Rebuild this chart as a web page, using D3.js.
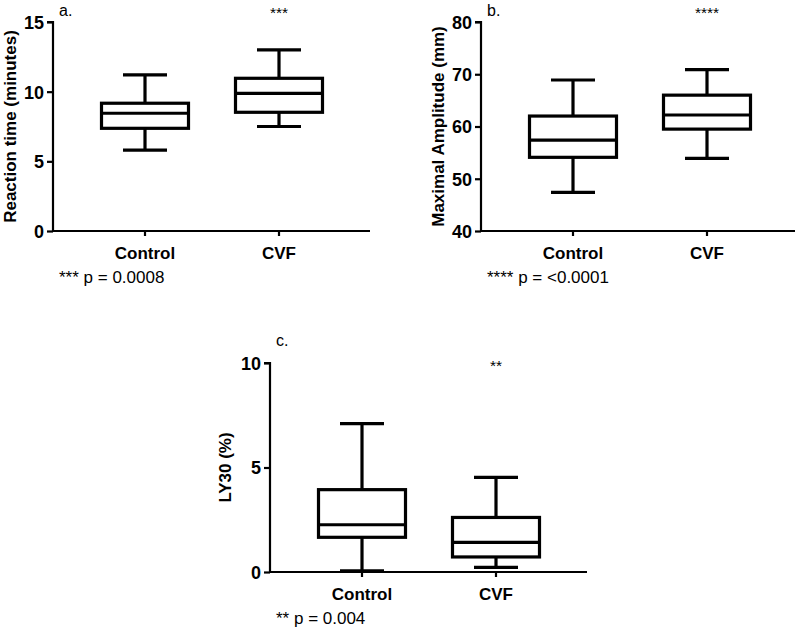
<!DOCTYPE html>
<html><head><meta charset="utf-8">
<script src="https://cdn.jsdelivr.net/npm/d3@7"></script>
<style>body{margin:0;background:#fff}svg{display:block}text{font-family:"Liberation Sans",Arial,sans-serif;fill:#000}</style>
</head><body><svg id="c" width="800" height="630"></svg>
<script>
const categories = ["Control", "CVF"];
// [min, Q1, median, Q3, max]
const reactionTime = [[5.8, 7.37, 8.45, 9.17, 11.2], [7.5, 8.52, 9.88, 10.96, 13.0]];
const maxAmplitude = [[47.4, 54.1, 57.4, 62.0, 68.9], [53.9, 59.5, 62.2, 66.0, 70.9]];
const ly30 = [[0.05, 1.66, 2.26, 3.94, 7.1], [0.22, 0.72, 1.42, 2.61, 4.53]];
const ticksA = [0, 5, 10, 15];
const ticksB = [40, 50, 60, 70, 80];
const ticksC = [0, 5, 10];

const svg = d3.select("#c");

function panel(o) {
  const g = svg.append("g").attr("transform", `translate(${o.x},${o.y})`);
  const W = o.w, H = 209;
  const y = d3.scaleLinear().domain(o.domain).range([H, 0]);
  const x = d3.scaleBand().domain(categories).range([25, 293]);
  // y axis
  const ya = g.append("g").call(d3.axisLeft(y).tickValues(o.ticks).tickSize(6).tickPadding(3));
  ya.select(".domain").attr("stroke-width", 2.2).attr("d", `M-6,0H0V${H}`);
  ya.selectAll(".tick line").attr("stroke-width", 2.2);
  ya.selectAll(".tick text").style("font-size", "18px").style("font-weight", "bold").attr("dy", "0.36em");
  // x axis
  const xa = g.append("g").attr("transform", `translate(0,${H})`).call(d3.axisBottom(x).tickSize(5).tickPadding(8));
  xa.select(".domain").attr("stroke-width", 2.2).attr("d", `M0,0H${W}`);
  xa.selectAll(".tick line").attr("stroke-width", 2.2);
  xa.selectAll(".tick text").style("font-size", "17px").style("font-weight", "bold").attr("dy", "0.9em");
  // boxes
  const bw = 87, cw = 44;
  o.data.forEach((d, i) => {
    const cx = x(categories[i]) + x.bandwidth() / 2;
    const b = g.append("g").attr("stroke", "#000").attr("stroke-width", 3.2).attr("fill", "#fff");
    b.append("line").attr("x1", cx).attr("x2", cx).attr("y1", y(d[0])).attr("y2", y(d[1]));
    b.append("line").attr("x1", cx).attr("x2", cx).attr("y1", y(d[3])).attr("y2", y(d[4]));
    b.append("line").attr("x1", cx - cw / 2).attr("x2", cx + cw / 2).attr("y1", y(d[0])).attr("y2", y(d[0]));
    b.append("line").attr("x1", cx - cw / 2).attr("x2", cx + cw / 2).attr("y1", y(d[4])).attr("y2", y(d[4]));
    b.append("rect").attr("x", cx - bw / 2).attr("width", bw).attr("y", y(d[3])).attr("height", y(d[1]) - y(d[3]));
    b.append("line").attr("x1", cx - bw / 2).attr("x2", cx + bw / 2).attr("y1", y(d[2])).attr("y2", y(d[2]));
  });
  // y title
  g.append("text").attr("transform", `translate(${o.tx},${H / 2 + o.tdy}) rotate(-90)`)
    .attr("text-anchor", "middle").style("font-size", "17px").style("font-weight", "bold").text(o.title);
  // panel letter
  g.append("text").attr("x", 6).attr("y", o.ly).style("font-size", "16px").text(o.letter);
  // stars
  const cx2 = x("CVF") + x.bandwidth() / 2;
  g.append("text").attr("x", cx2).attr("y", o.sy).attr("text-anchor", "middle").style("font-size", "15.5px").text(o.stars);
  // p-value note
  g.append("text").attr("x", 6).attr("y", H + 52).style("font-size", "17px").text(o.note);
}

panel({x: 53, y: 22, w: 317, domain: [0, 15], ticks: ticksA, data: reactionTime,
  title: "Reaction time (minutes)", tx: -37, tdy: 0, letter: "a.", ly: -6, stars: "***", sy: -4, note: "*** p = 0.0008"});
panel({x: 481, y: 22, w: 314, domain: [40, 80], ticks: ticksB, data: maxAmplitude,
  title: "Maximal Amplitude (mm)", tx: -37, tdy: 0, letter: "b.", ly: -6, stars: "****", sy: -4, note: "**** p = <0.0001"});
panel({x: 270, y: 363, w: 317, domain: [0, 10], ticks: ticksC, data: ly30,
  title: "LY30 (%)", tx: -39, tdy: 0, letter: "c.", ly: -17, stars: "**", sy: 8, note: "** p = 0.004"});
</script></body></html>
